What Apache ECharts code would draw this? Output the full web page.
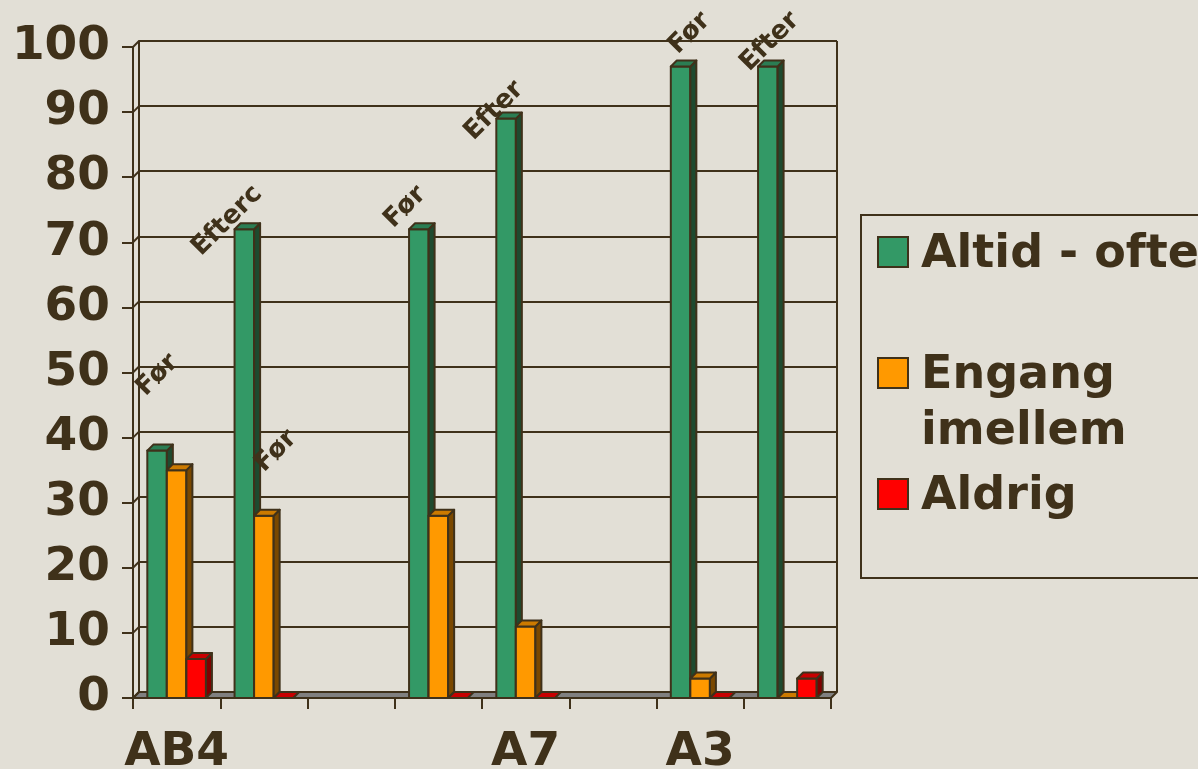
<!DOCTYPE html>
<html>
<head>
<meta charset="utf-8">
<script src="https://cdn.jsdelivr.net/npm/echarts@6/dist/echarts.min.js"></script>
<style>
  html, body { margin: 0; padding: 0; background: #e2dfd6; }
  #chart { width: 1198px; height: 769px; }
</style>
</head>
<body>
<div id="chart"></div>
<script>
// Groups along the floor (empty slots separate the three courses)
const groupLabels = ['AB4', '', '', '', 'A7', '', 'A3', ''];
const seriesNames = ['Altid - ofte', 'Engang\nimellem', 'Aldrig'];

// Share of answers (%) per group
const altid  = [38, 72, null, 72, 89, null, 97, 97];
const engang = [35, 28, null, 28, 11, null, 3, 0];
const aldrig = [6, 0, null, 0, 0, null, 0, 3];

// Value axis
const yMin = 0, yMax = 100, yStep = 10;

// "Før"/"Efter" annotations: group index and value level they sit at
const noteText  = ['Før', 'Efterc', 'Før', 'Før', 'Efter', 'Før', 'Efter'];
const noteGroup = [0, 1, 1, 3, 4, 6, 7];
const noteLevel = [49.6, 73.3, 37.9, 75.4, 90.2, 102.1, 100.8];
const noteShift = [-0.22, -0.42, 0.14, -0.38, -0.36, -0.12, -0.2];

const INK = '#3f311a';
const FONT = 'DejaVu Sans';
const DEPTH = 6;
const BAR_FRACTION = 0.224;
const faces = [
  { front: '#339966', top: '#2b7d53', side: '#1e4a2f' },
  { front: '#ff9900', top: '#cc7a00', side: '#7a4800' },
  { front: '#ff0000', top: '#c80000', side: '#800000' }
];
const seriesValues = [altid, engang, aldrig];

const chart = echarts.init(document.getElementById('chart'));

function faceStyle(fill) {
  return { fill: fill, stroke: INK, lineWidth: 2, lineJoin: 'round' };
}

// 3D-looking column: front rectangle, right side and top face
function barRenderer(k) {
  return function (params, api) {
    const v = api.value(1);
    if (isNaN(v)) return null;
    const idx = api.value(0);
    const base = api.coord([idx, 0]);
    const tip = api.coord([idx, v]);
    const band = api.size([1, 0])[0];
    const bw = band * BAR_FRACTION;
    const x0 = base[0] - 1.5 * bw + k * bw;
    const x1 = x0 + bw;
    const yb = base[1];
    const yt = tip[1];
    const f = faces[k];
    const children = [];
    if (v > 0) {
      children.push({
        type: 'rect',
        shape: { x: x0, y: yt, width: bw, height: yb - yt },
        style: faceStyle(f.front)
      });
      children.push({
        type: 'polygon',
        shape: { points: [[x1, yt], [x1 + DEPTH, yt - DEPTH], [x1 + DEPTH, yb - DEPTH], [x1, yb]] },
        style: faceStyle(f.side)
      });
    }
    children.push({
      type: 'polygon',
      shape: { points: [[x0, yt], [x0 + DEPTH, yt - DEPTH], [x1 + DEPTH, yt - DEPTH], [x1, yt]] },
      style: faceStyle(f.top)
    });
    return { type: 'group', children: children };
  };
}

// Floor, side-wall edges and right edge of the back wall
function wallsRenderer(params, api) {
  const cs = params.coordSys;
  const x = cs.x, y = cs.y, w = cs.width, h = cs.height;
  const children = [{
    type: 'polygon',
    shape: { points: [[x, y + h], [x + w, y + h], [x + w + DEPTH, y + h - DEPTH], [x + DEPTH, y + h - DEPTH]] },
    style: faceStyle('#808080')
  }, {
    type: 'line',
    shape: { x1: x + w + DEPTH, y1: y - DEPTH, x2: x + w + DEPTH, y2: y + h - DEPTH },
    style: { stroke: INK, lineWidth: 2 }
  }];
  for (let v = yMin; v <= yMax; v += yStep) {
    const p = api.coord([0, v]);
    children.push({
      type: 'line',
      shape: { x1: x, y1: p[1], x2: x + DEPTH, y2: p[1] - DEPTH },
      style: { stroke: INK, lineWidth: 2 }
    });
  }
  return { type: 'group', children: children };
}

function notesRenderer(params, api) {
  const i = params.dataIndex;
  const p = api.coord([api.value(0), api.value(1)]);
  const band = api.size([1, 0])[0];
  return {
    type: 'text',
    x: p[0] + noteShift[i] * band,
    y: p[1],
    rotation: Math.PI / 4,
    style: {
      text: noteText[i],
      font: 'bold 26px "' + FONT + '"',
      fill: INK,
      align: 'center',
      verticalAlign: 'middle'
    }
  };
}

const barSeries = seriesNames.map((name, k) => ({
  name: name,
  type: 'custom',
  xAxisIndex: 0,
  yAxisIndex: 0,
  renderItem: barRenderer(k),
  itemStyle: { color: faces[k].front },
  encode: { x: 0, y: 1 },
  data: seriesValues[k].map((v, i) => [i, v == null ? '-' : v]),
  z: 3
}));

// Legend entries: an empty spacer line lowers each text block against its swatch
const legendTops = [221, 286, 463];
const legendSpacer = [6, 62, 6];

const option = {
  backgroundColor: '#e2dfd6',
  animation: false,
  textStyle: { fontFamily: FONT },
  grid: [
    { left: 133, top: 47, width: 698, height: 651, outerBoundsMode: 'none', containLabel: false },
    { left: 133 + DEPTH, top: 47 - DEPTH, width: 698, height: 651, outerBoundsMode: 'none', containLabel: false }
  ],
  xAxis: [{
    gridIndex: 0,
    type: 'category',
    data: groupLabels,
    boundaryGap: true,
    axisLine: { lineStyle: { color: INK, width: 2 } },
    axisTick: { show: true, interval: 0, length: 11, lineStyle: { color: INK, width: 2 } },
    axisLabel: {
      interval: 0, margin: 31, color: INK,
      fontFamily: FONT, fontWeight: 'bold', fontSize: 47
    },
    z: 4
  }, {
    gridIndex: 1,
    type: 'category',
    data: groupLabels,
    show: false
  }],
  yAxis: [{
    gridIndex: 0,
    type: 'value',
    min: yMin, max: yMax, interval: yStep,
    axisLine: { show: true, lineStyle: { color: INK, width: 2 } },
    axisTick: { show: true, length: 11, lineStyle: { color: INK, width: 2 } },
    splitLine: { show: false },
    axisLabel: {
      margin: 23, color: INK, padding: [6, 0, 0, 0],
      fontFamily: FONT, fontWeight: 'bold', fontSize: 47
    }
  }, {
    gridIndex: 1,
    type: 'value',
    min: yMin, max: yMax, interval: yStep,
    axisLine: { show: true, lineStyle: { color: INK, width: 2 } },
    axisTick: { show: false },
    axisLabel: { show: false },
    splitLine: { show: true, lineStyle: { color: INK, width: 2 } }
  }],
  legend: seriesNames.map((name, k) => ({
    data: [name],
    orient: 'vertical',
    left: 877,
    top: legendTops[k],
    padding: 0,
    icon: 'rect',
    itemWidth: 30,
    itemHeight: 30,
    selectedMode: false,
    itemStyle: { borderColor: INK, borderWidth: 2 },
    formatter: function (n) { return '{gap| }\n' + n; },
    textStyle: {
      fontFamily: FONT, fontWeight: 'bold', fontSize: 46, color: INK,
      lineHeight: 56,
      padding: [0, 0, 0, 8],
      rich: {
        gap: { fontSize: 4, lineHeight: legendSpacer[k], height: legendSpacer[k] }
      }
    }
  })),
  graphic: [{
    type: 'rect',
    shape: { x: 861, y: 215, width: 360, height: 363 },
    style: { fill: 'none', stroke: INK, lineWidth: 2 },
    z: 0
  }],
  series: [{
    name: 'walls',
    type: 'custom',
    xAxisIndex: 0,
    yAxisIndex: 0,
    renderItem: wallsRenderer,
    data: [[0, 0]],
    silent: true,
    z: 1
  }].concat(barSeries).concat([{
    name: 'notes',
    type: 'custom',
    xAxisIndex: 0,
    yAxisIndex: 0,
    renderItem: notesRenderer,
    encode: { x: 0, y: 1 },
    data: noteGroup.map((g, i) => [g, noteLevel[i]]),
    silent: true,
    clip: false,
    z: 5
  }])
};

chart.setOption(option);
</script>
</body>
</html>
